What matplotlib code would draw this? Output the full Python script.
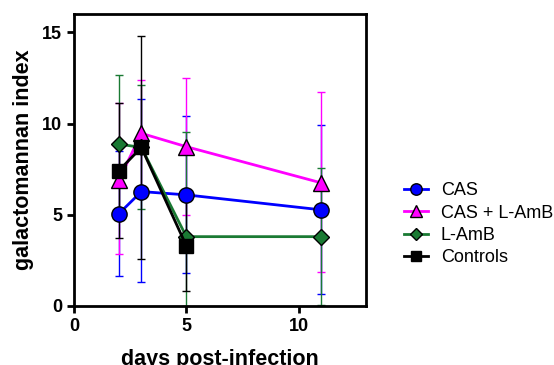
import numpy as np
import matplotlib.pyplot as plt

plt.rcParams['font.family'] = ['Liberation Sans', 'DejaVu Sans']

days = [2, 3, 5, 11]

cas = [5.06, 6.27, 6.09, 5.27]
cas_lo = [1.65, 1.29, 1.8, 0.65]
cas_hi = [8.47, 11.33, 10.4, 9.9]

combo = [6.91, 9.46, 8.73, 6.75]
combo_lo = [2.84, 6.55, 5.0, 1.84]
combo_hi = [11.1, 12.37, 12.5, 11.75]

lamb = [8.87, 8.69, 3.8, 3.8]
lamb_lo = [5.1, 5.3, 0.0, 0.05]
lamb_hi = [12.64, 12.1, 9.55, 7.57]

ctrl_days = [2, 3, 5]
ctrl = [7.42, 8.69, 3.3]
ctrl_lo = [3.7, 2.58, 0.8]
ctrl_hi = [11.13, 14.8, 5.8]

fig = plt.figure(figsize=(5.54, 3.65), dpi=100)
ax = fig.add_axes([74/554, 1 - 306/365, 292/554, 292/365])


def draw(x, y, lo, hi, color, marker, ms, label, lw=2):
    y = np.array(y)
    yerr = [y - np.array(lo), np.array(hi) - y]
    ax.errorbar(x, y, yerr=yerr, fmt='none', ecolor=color, elinewidth=1,
                capsize=3, capthick=1, zorder=2)
    ax.plot(x, y, color=color, lw=lw, marker=marker, ms=ms, mfc=color,
            mec='black', mew=1, label=label, zorder=3)


draw(days, cas, cas_lo, cas_hi, '#0000ff', 'o', 11, 'CAS')
draw(days, combo, combo_lo, combo_hi, '#ff00ff', '^', 11, 'CAS + L-AmB')
draw(days, lamb, lamb_lo, lamb_hi, '#1a7a33', 'D', 8, 'L-AmB')
draw(ctrl_days, ctrl, ctrl_lo, ctrl_hi, '#000000', 's', 9.5, 'Controls')

ax.set_xlim(0, 13)
ax.set_ylim(0, 16)
ax.set_xticks([0, 5, 10])
ax.set_yticks([0, 5, 10, 15])
for s in ax.spines.values():
    s.set_linewidth(2)
ax.tick_params(width=2, length=5, labelsize=13)
for t in ax.get_xticklabels() + ax.get_yticklabels():
    t.set_fontweight('bold')
ax.set_xlabel('days post-infection', fontsize=15.5, fontweight='bold', labelpad=10)
ax.set_ylabel('galactomannan index', fontsize=15.5, fontweight='bold', labelpad=6)

ax.legend(loc='center left', bbox_to_anchor=(1.105, 0.28), frameon=False,
          fontsize=13, handlelength=1.35, handletextpad=0.7, labelspacing=0.3,
          borderaxespad=0, markerscale=0.75)

fig.savefig('out.png', dpi=100)
